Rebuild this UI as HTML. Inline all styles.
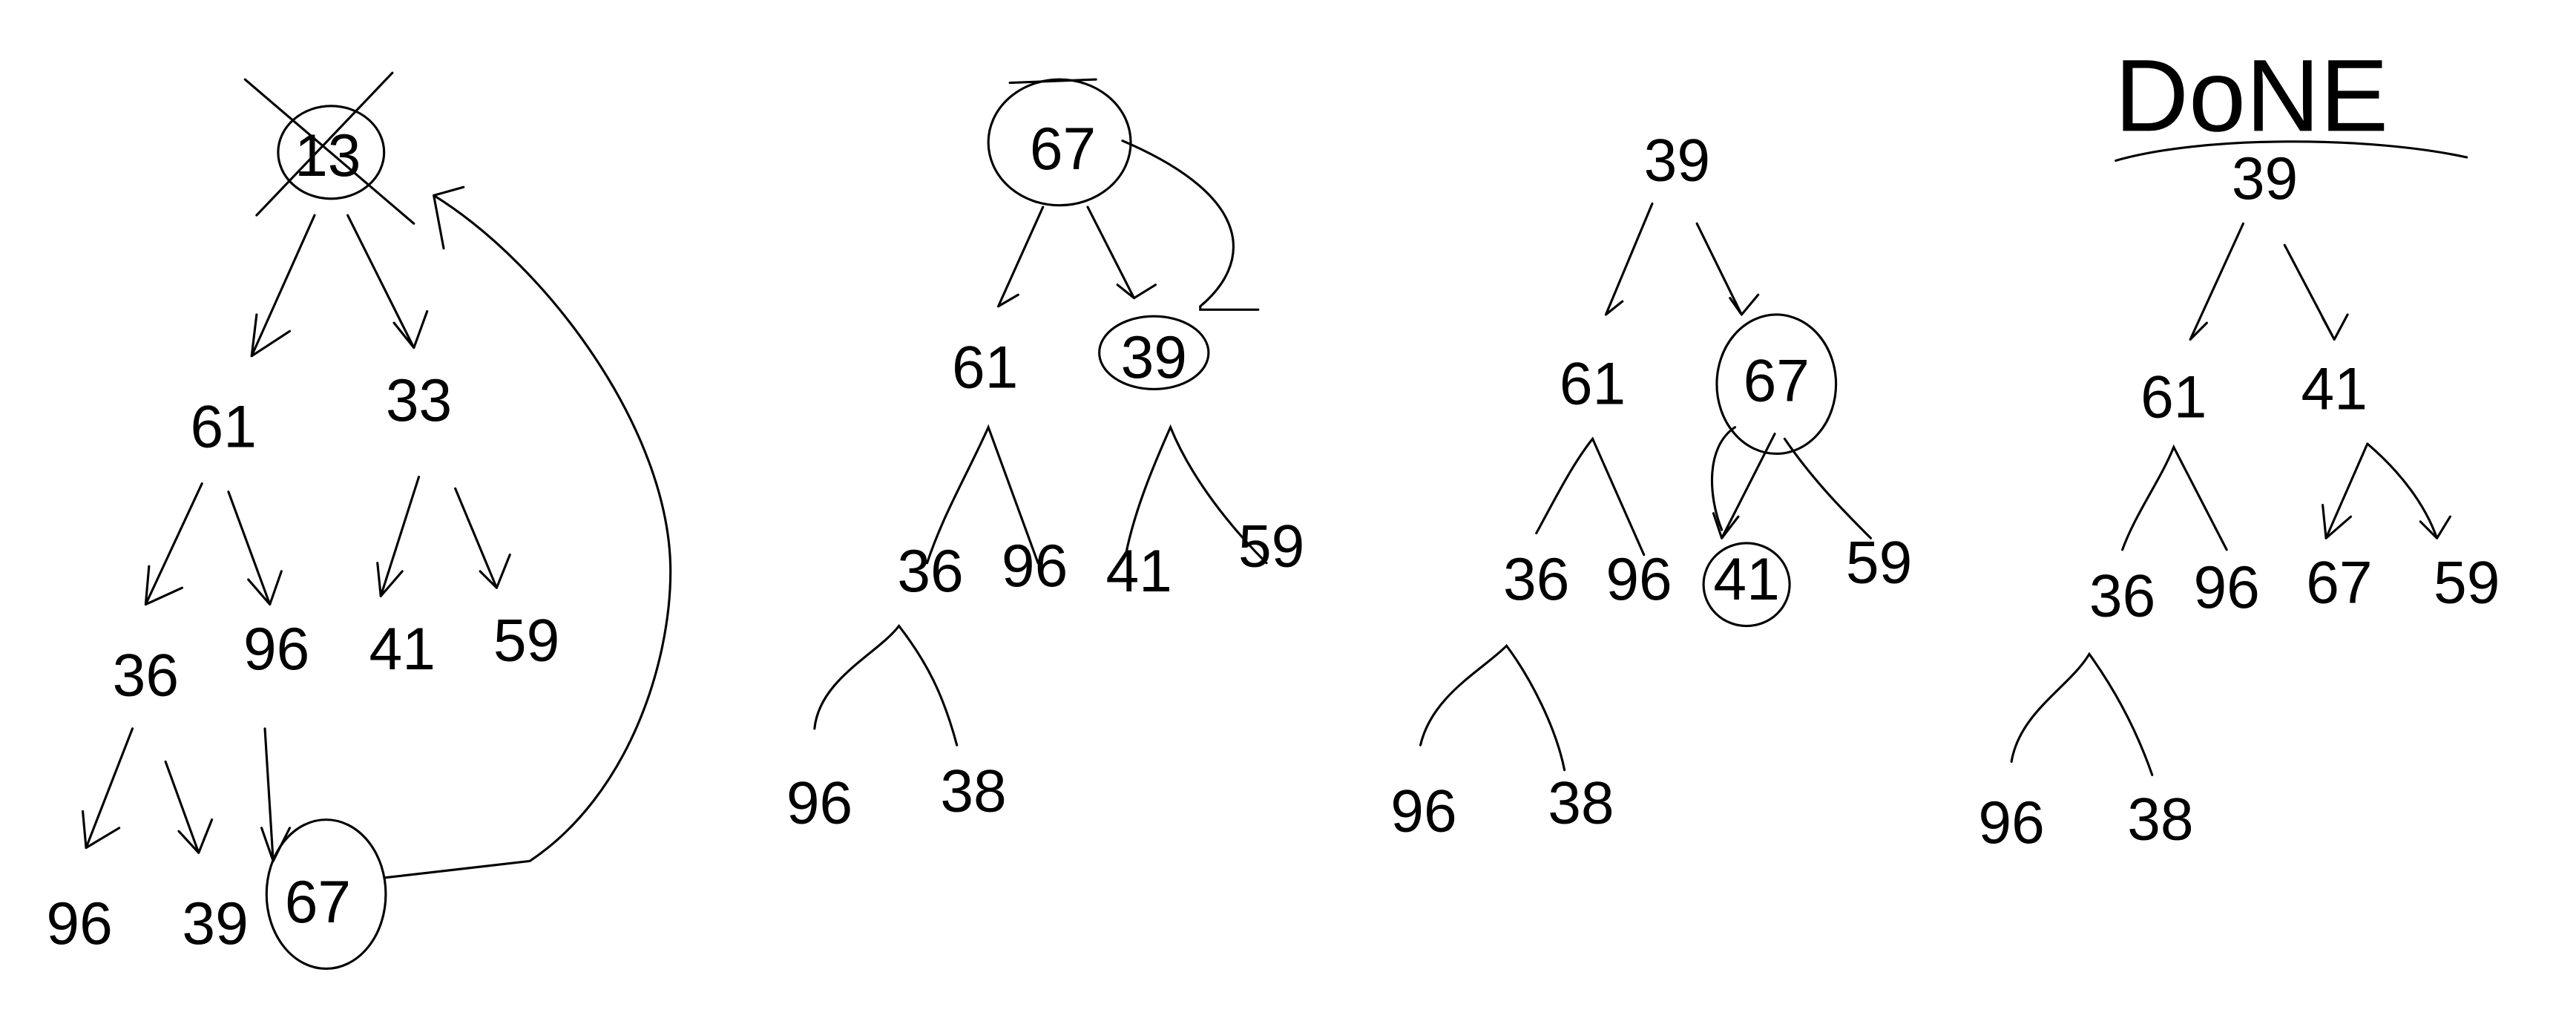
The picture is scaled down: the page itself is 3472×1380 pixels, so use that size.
<!DOCTYPE html>
<html><head><meta charset="utf-8"><style>
html,body{margin:0;padding:0;background:#fff}
svg{display:block}
text{font-family:"Liberation Sans",sans-serif;font-size:36px;fill:#000;text-anchor:middle;dominant-baseline:central}
path,line,ellipse{fill:none;stroke:#000;stroke-width:1.4;stroke-linecap:round}
</style></head><body>
<svg width="3472" height="1380" viewBox="0 0 1556 618.4" preserveAspectRatio="none">
<!-- Tree 1 -->
<g>
<ellipse cx="200" cy="92" rx="32" ry="28"/>
<line x1="148" y1="48" x2="250" y2="135"/><line x1="237" y1="44" x2="155" y2="130"/>
<text x="198" y="94">13</text>
<path d="M190 130 L152 215 M152 215 L175 200 M152 215 L155 190"/>
<path d="M210 130 L250 210 M250 210 L258 188 M250 210 L238 195"/>
<text x="135" y="258">61</text>
<text x="253" y="242">33</text>
<path d="M122 292 L88 365 M88 365 L110 355 M88 365 L90 342"/>
<path d="M138 297 L163 365 M163 365 L170 345 M163 365 L150 350"/>
<path d="M253 288 L230 360 M230 360 L243 345 M230 360 L228 340"/>
<path d="M275 295 L300 355 M300 355 L308 335 M300 355 L290 345"/>
<text x="88" y="408">36</text>
<text x="167" y="392">96</text>
<text x="243" y="392">41</text>
<text x="318" y="387">59</text>
<path d="M80 440 L52 512 M52 512 L72 500 M52 512 L50 490"/>
<path d="M100 460 L120 515 M120 515 L128 495 M120 515 L108 502"/>
<path d="M160 440 L165 520 M165 520 L175 500 M165 520 L158 500"/>
<text x="48" y="558">96</text>
<text x="130" y="558">39</text>
<ellipse cx="197" cy="540" rx="36" ry="45"/>
<text x="192" y="545">67</text>
<path d="M233 530 L320 520 C380 480 405 400 405 345 C405 260 330 160 262 118 M262 118 L268 150 M262 118 L280 113"/>
</g>
<!-- Tree 2 -->
<g>
<ellipse cx="640" cy="86" rx="43" ry="38"/>
<path d="M610 50 L662 48"/>
<text x="642" y="90">67</text>
<path d="M678 85 C760 120 755 160 725 185 L725 187 L760 187"/>
<path d="M630 125 L603 185 M603 185 L615 178"/>
<path d="M657 125 L685 180 M685 180 L698 172 M685 180 L675 172"/>
<text x="595" y="222">61</text>
<ellipse cx="697" cy="213" rx="33" ry="22"/>
<text x="697" y="216">39</text>
<path d="M560 340 C570 310 585 285 597 258 L627 340"/>
<path d="M680 335 C685 310 695 285 707 258 C720 290 745 320 765 340"/>
<text x="562" y="345">36</text>
<text x="625" y="342">96</text>
<text x="688" y="345">41</text>
<text x="768" y="330">59</text>
<path d="M492 440 C495 410 530 395 543 378 C560 400 570 420 578 450"/>
<text x="495" y="485">96</text>
<text x="588" y="478">38</text>
</g>
<!-- Tree 3 -->
<g>
<text x="1013" y="97">39</text>
<path d="M998 123 L970 190 M970 190 L980 182"/>
<path d="M1025 135 L1052 190 M1052 190 L1062 178 M1052 190 L1045 180"/>
<text x="962" y="232">61</text>
<ellipse cx="1073" cy="232" rx="36" ry="42"/>
<text x="1073" y="230">67</text>
<path d="M928 322 C940 300 950 280 962 265 L993 335"/>
<path d="M1072 262 L1040 325 M1040 325 L1050 312 M1040 325 L1035 310 M1048 258 C1030 270 1032 300 1040 320"/>
<path d="M1078 265 C1095 290 1115 310 1130 325"/>
<text x="928" y="350">36</text>
<text x="990" y="350">96</text>
<ellipse cx="1055" cy="353" rx="26" ry="25"/>
<text x="1055" y="350">41</text>
<text x="1135" y="340">59</text>
<path d="M858 450 C865 420 895 405 910 390 C925 410 940 440 945 465"/>
<text x="860" y="490">96</text>
<text x="955" y="485">38</text>
</g>
<!-- Tree 4 -->
<g>
<text x="1360" y="58" style="font-size:62px">DoNE</text>
<path d="M1278 97 C1330 82 1430 82 1490 95"/>
<text x="1368" y="108">39</text>
<path d="M1355 135 L1323 205 M1323 205 L1333 195"/>
<path d="M1380 148 L1410 205 M1410 205 L1418 190 M1410 205 L1403 192"/>
<text x="1313" y="240">61</text>
<text x="1410" y="235">41</text>
<path d="M1282 332 C1290 310 1305 290 1313 270 L1345 332"/>
<path d="M1430 268 L1405 325 M1405 325 L1420 312 M1405 325 L1403 305"/>
<path d="M1430 268 C1450 285 1465 305 1472 325 M1472 325 L1480 312 M1472 325 L1462 315"/>
<text x="1282" y="360">36</text>
<text x="1345" y="355">96</text>
<text x="1413" y="352">67</text>
<text x="1490" y="352">59</text>
<path d="M1215 460 C1220 430 1250 415 1262 395 C1280 420 1292 445 1300 468"/>
<text x="1215" y="497">96</text>
<text x="1305" y="495">38</text>
</g>
</svg>
</body></html>
